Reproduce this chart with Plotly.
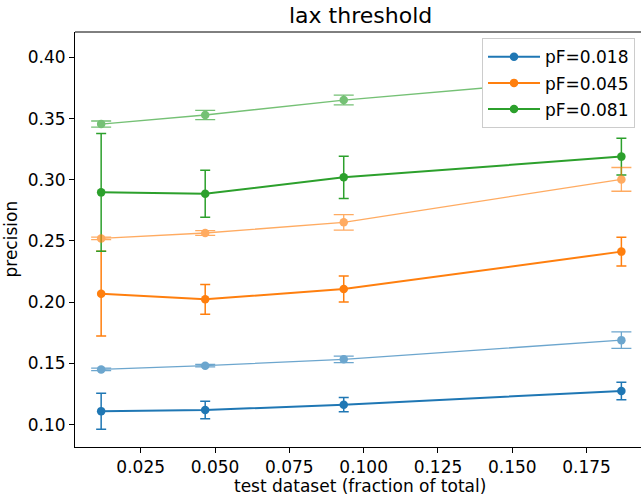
import plotly.graph_objects as go

# test-set size (fraction of total dataset)
test_fraction = [0.0117, 0.0467, 0.0933, 0.1867]

# precision, strict scoring (solid lines) and lax scoring (faded lines)
prec_018 = [0.1110, 0.1119, 0.1163, 0.1274]
err_018 = [0.0147, 0.0072, 0.0059, 0.0072]
prec_018_lax = [0.1451, 0.1481, 0.1533, 0.1690]
err_018_lax = [0.0010, 0.0010, 0.0027, 0.0067]

prec_045 = [0.2069, 0.2023, 0.2107, 0.2413]
err_045 = [0.0346, 0.0121, 0.0106, 0.0117]
prec_045_lax = [0.2521, 0.2565, 0.2652, 0.3003]
err_045_lax = [0.0010, 0.0020, 0.0064, 0.0097]

prec_081 = [0.2897, 0.2886, 0.3020, 0.3189]
err_081 = [0.0480, 0.0192, 0.0173, 0.0150]
prec_081_lax = [0.3455, 0.3529, 0.3651, 0.3846]
err_081_lax = [0.0025, 0.0038, 0.0040, 0.0197]

labels = ["pF=0.018", "pF=0.045", "pF=0.081"]
colors = ["#1f77b4", "#ff7f0e", "#2ca02c"]

x_ticks = [0.025, 0.050, 0.075, 0.100, 0.125, 0.150, 0.175]
y_ticks = [0.10, 0.15, 0.20, 0.25, 0.30, 0.35, 0.40]

main_series = [(prec_018, err_018), (prec_045, err_045), (prec_081, err_081)]
lax_series = [(prec_018_lax, err_018_lax), (prec_045_lax, err_045_lax),
              (prec_081_lax, err_081_lax)]

FONT = "DejaVu Sans"

fig = go.Figure()

for (vals, errs), name, col in zip(main_series, labels, colors):
    fig.add_trace(go.Scatter(
        x=test_fraction, y=vals, name=name, mode="lines+markers",
        line=dict(color=col, width=2),
        marker=dict(color=col, size=8.5),
        error_y=dict(type="data", array=errs, visible=True,
                     color=col, thickness=1.5, width=5),
        legendgroup=name,
    ))

for (vals, errs), name, col in zip(lax_series, labels, colors):
    fig.add_trace(go.Scatter(
        x=test_fraction, y=vals, mode="lines+markers", showlegend=False,
        line=dict(color=col, width=1.3),
        marker=dict(color=col, size=8.5),
        error_y=dict(type="data", array=errs, visible=True,
                     color=col, thickness=1.3, width=10),
        opacity=0.65,
    ))

axis_common = dict(
    showgrid=False, zeroline=False, showline=True, linecolor="black",
    linewidth=1, ticks="outside", ticklen=5, tickwidth=1, tickcolor="black",
    tickfont=dict(family=FONT, size=17, color="black"),
)

fig.update_layout(
    width=641, height=500,
    margin=dict(l=75, r=0, t=32, b=53),
    paper_bgcolor="white", plot_bgcolor="white",
    font=dict(family=FONT, size=17, color="black"),
    xaxis=dict(range=[0.0029, 0.1933], tickvals=x_ticks,
               ticktext=[f"{v:.3f}" for v in x_ticks], **axis_common),
    yaxis=dict(range=[0.0817, 0.4207], tickvals=y_ticks,
               ticktext=[f"{v:.2f}" for v in y_ticks], **axis_common),
    legend=dict(
        x=0.9894, y=0.985, xanchor="right", yanchor="top",
        bgcolor="white", bordercolor="#cccccc", borderwidth=1,
        font=dict(family=FONT, size=17, color="black"),
        itemwidth=52, tracegroupgap=1,
    ),
    showlegend=True,
    shapes=[dict(type="line", xref="paper", yref="paper", x0=0, x1=1.02,
                 y0=1, y1=1, line=dict(color="black", width=1))],
    annotations=[
        dict(text="lax threshold", xref="paper", yref="paper",
             x=0.5053, y=1, xanchor="center", yanchor="bottom", yshift=2,
             showarrow=False, font=dict(family=FONT, size=22, color="black")),
        dict(text="test dataset (fraction of total)", xref="paper",
             yref="paper", x=0.5042, y=0, xanchor="center", yanchor="top",
             yshift=-27, showarrow=False,
             font=dict(family=FONT, size=17, color="black")),
        dict(text="precision", xref="paper", yref="paper", x=0, y=0.5,
             xanchor="right", yanchor="middle", xshift=-53, textangle=-90,
             showarrow=False, font=dict(family=FONT, size=17, color="black")),
    ],
)

fig.write_html("out.html")
